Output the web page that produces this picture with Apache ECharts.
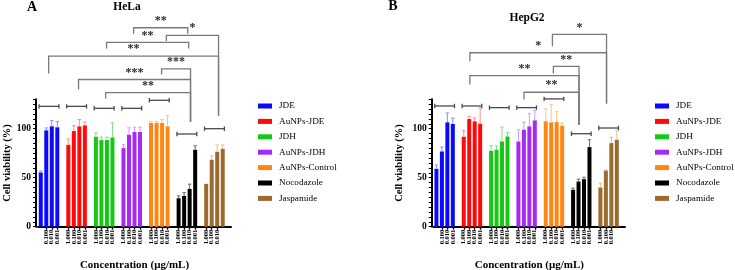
<!DOCTYPE html>
<html><head><meta charset="utf-8">
<script src="https://cdn.jsdelivr.net/npm/echarts@6/dist/echarts.min.js"></script>
<style>html,body{margin:0;padding:0;background:#fff}#c{width:735px;height:270px}</style>
</head><body><div id="c"></div>
<script>
// ---------- data ----------
const compounds = ['JDE','AuNPs-JDE','JDH','AuNPs-JDH','AuNPs-Control','Nocodazole','Jaspamide'];
const concentrations = ['1.000','0.100','0.010','0.001'];
const barColors = ['#0a0aff','#ff0a0a','#14c814','#a52af5','#ff8614','#000000','#9b6a2e'];
const errColors = ['#8a8aff','#ff8f8f','#86de86','#d39af7','#ffc283','#6a6a6a','#dcc29a'];

const helaValues = [
  [55.3, 98.3, 102.4, 101.4],
  [83.6, 97.6, 102.4, 103.4],
  [91.8, 88.4, 88.4, 91.1],
  [80.2, 93.9, 96.6, 96.6],
  [105.8, 105.8, 105.8, 102.4],
  [29.0, 31.4, 38.6, 78.5],
  [43.7, 68.3, 76.5, 79.5]];
const helaErrors = [
  [1.5, 2.5, 6, 6],
  [6, 5.5, 7, 3.5],
  [4, 3, 3, 15],
  [3.5, 7, 5, 5],
  [1.5, 1.5, 3.5, 11],
  [2.5, 3.4, 4.8, 4],
  [0, 4, 7, 4]];
const hepg2Values = [
  [59.0, 76.8, 106.5, 104.8],
  [91.8, 109.9, 107.5, 105.1],
  [77.5, 78.5, 87.0, 92.1],
  [87.0, 99.0, 102.4, 108.5],
  [107.5, 106.5, 106.8, 103.1],
  [37.6, 46.1, 48.5, 81.2],
  [40.0, 57.3, 85.3, 88.7]];
const hepg2Errors = [
  [4, 4.4, 9.5, 6],
  [6.5, 2.7, 3.5, 16],
  [5, 4, 14.7, 4],
  [12, 7.8, 13, 10],
  [12.7, 18, 10.6, 2.7],
  [1.7, 2.4, 2, 7.5],
  [4.4, 0.7, 6, 9.6]];

// level of the short bracket over each group
const helaGroupLevels = [122.8, 122.8, 120.8, 120.8, 129, 94.6, 100];
const hepg2GroupLevels = [123.2, 123.2, 121.5, 121.5, 130.4, 94.9, 100.7];

// comparison brackets: [from slot, to slot, top value, left leg end, right leg end]
const helaBrackets = [
  [16.84, 26.65, 203, 197, 197],
  [22.78, 32.24, 195.2, 189.4, 113.3],
  [11.93, 26.82, 188, 181.9, 181.9],
  [1.43, 32.24, 174, 156.3, 113.3],
  [21.91, 27.16, 161.1, 155.3, 107.2],
  [6.85, 27.16, 150.2, 140, 107.2],
  [11.76, 27.16, 136.8, 130.7, 107.2]];
const helaStars = ['**', '*', '**', '**', '***', '***', '**'];
const hepg2Brackets = [
  [21.22, 31.12, 196.2, 184.2, 125.6],
  [6.12, 31.12, 177.5, 168.9, 125.6],
  [21.4, 26.09, 163.5, 156.3, 104],
  [6.12, 26.09, 154.2, 145, 104],
  [16.02, 26.09, 137.2, 129.7, 104]];
const hepg2Stars = ['*', '*', '**', '**', '**'];

// ---------- build ----------
const SLOTS = 5;
const categories = [];
compounds.forEach(() => { concentrations.forEach(c => categories.push(c)); categories.push(''); });

const FONT = '"Liberation Serif", "Times New Roman", serif';

function slotGeom(api) {
  const a = api.coord([0, 0])[0], b = api.coord([1, 0])[0];
  return s => a + s * (b - a);
}

function errSeries(idx, values, errors) {
  const data = [];
  values.forEach((vals, g) => vals.forEach((v, i) => data.push([g * SLOTS + i, v, errors[g][i], g])));
  return {
    type: 'custom', xAxisIndex: idx, yAxisIndex: idx, z: 5, clip: false, silent: true,
    encode: { x: 0, y: 1 },
    data: data,
    renderItem: function (params, api) {
      const x = api.value(0), v = api.value(1), e = api.value(2), g = api.value(3);
      if (!e) return null;
      const p0 = api.coord([x, v]), p1 = api.coord([x, v + e]);
      const c = errColors[g];
      return { type: 'group', children: [
        { type: 'line', shape: { x1: p0[0], y1: p0[1], x2: p1[0], y2: p1[1] }, style: { stroke: c, lineWidth: 1 } },
        { type: 'line', shape: { x1: p1[0] - 1.7, y1: p1[1], x2: p1[0] + 1.7, y2: p1[1] }, style: { stroke: c, lineWidth: 1 } }
      ] };
    }
  };
}

function groupBracketSeries(idx, levels) {
  return {
    type: 'custom', xAxisIndex: idx, yAxisIndex: idx, z: 6, clip: false, silent: true,
    data: levels.map((l, g) => [g * SLOTS, l]),
    encode: { x: 0, y: 1 },
    renderItem: function (params, api) {
      const X = slotGeom(api);
      const g = params.dataIndex;
      const y = api.coord([0, levels[g]])[1];
      const x1 = X(g * SLOTS - 0.3), x2 = X(g * SLOTS + 3.3);
      const st = { stroke: '#4a4a4a', lineWidth: 1.3 };
      return { type: 'group', children: [
        { type: 'line', shape: { x1: x1, y1: y, x2: x2, y2: y }, style: st },
        { type: 'line', shape: { x1: x1, y1: y - 2.2, x2: x1, y2: y + 2.2 }, style: st },
        { type: 'line', shape: { x1: x2, y1: y - 2.2, x2: x2, y2: y + 2.2 }, style: st }
      ] };
    }
  };
}

function bracketSeries(idx, brackets, stars) {
  return {
    type: 'custom', xAxisIndex: idx, yAxisIndex: idx, z: 6, clip: false, silent: true,
    data: brackets.map(b => [0, 0]),
    encode: { x: 0, y: 1 },
    renderItem: function (params, api) {
      const X = slotGeom(api);
      const b = brackets[params.dataIndex];
      const Y = v => api.coord([0, v])[1];
      const x1 = X(b[0]), x2 = X(b[1]), yt = Y(b[2]), yl = Y(b[3]), yr = Y(b[4]);
      return { type: 'group', children: [
        { type: 'polyline', shape: { points: [[x1, yl], [x1, yt], [x2, yt], [x2, yr]] },
          style: { stroke: '#7a7a7a', lineWidth: 1.3, fill: null } },
        { type: 'text', style: { text: stars[params.dataIndex], x: (x1 + x2) / 2, y: yt - 7,
          align: 'center', verticalAlign: 'middle', textAlign: 'center', textVerticalAlign: 'middle',
          font: 'bold 12px ' + FONT, fill: '#2a2a2a' } }
      ] };
    }
  };
}

function barSeries(idx, values) {
  return compounds.map((name, g) => ({
    name: name, type: 'bar', xAxisIndex: idx, yAxisIndex: idx,
    barWidth: 4, barGap: '-100%',
    itemStyle: { color: barColors[g] },
    data: values[g].map((v, i) => [g * SLOTS + i, v])
  }));
}

function xAxis(idx) {
  return {
    gridIndex: idx, type: 'category', data: categories, boundaryGap: true,
    axisLine: { show: true, lineStyle: { color: '#000', width: 2 } },
    axisTick: { show: true, alignWithLabel: true, interval: i => i % SLOTS !== SLOTS - 1, length: 3,
      lineStyle: { color: '#000', width: 1.4 } },
    axisLabel: { interval: i => i % SLOTS !== SLOTS - 1, rotate: 90, fontSize: 6.5, fontWeight: 'bold',
      fontFamily: FONT, color: '#000', margin: 3 },
    splitLine: { show: false },
    name: 'Concentration (μg/mL)', nameLocation: 'middle', nameGap: 33, nameMoveOverlap: false,
    nameTextStyle: { fontFamily: FONT, fontWeight: 'bold', fontSize: 11, color: '#000' }
  };
}
function yAxis(idx, gap) {
  return {
    gridIndex: idx, type: 'value', min: 0, max: 130, interval: 5, offset: 2,
    axisLine: { show: true, lineStyle: { color: '#000', width: 2 } },
    axisTick: { show: true, length: 3, lineStyle: { color: '#000', width: 1 } },
    axisLabel: { formatter: v => (v % 50 === 0 ? String(v) : ''), fontSize: 9.5, fontWeight: 'bold',
      fontFamily: FONT, color: '#000', margin: 5 },
    splitLine: { show: false },
    name: 'Cell viability (%)', nameLocation: 'middle', nameGap: gap, nameMoveOverlap: false,
    nameTextStyle: { fontFamily: FONT, fontWeight: 'bold', fontSize: 10.5, color: '#000' }
  };
}
function legend(left) {
  return {
    orient: 'vertical', left: left, top: 101, padding: 0, itemWidth: 14, itemHeight: 5, itemGap: 5.4,
    icon: 'rect', data: compounds, selectedMode: false,
    textStyle: { fontFamily: FONT, fontSize: 9.2, color: '#000', lineHeight: 10, padding: [0, 0, 0, 2] }
  };
}

const chart = echarts.init(document.getElementById('c'), null, { renderer: 'canvas' });
chart.setOption({
  animation: false,
  backgroundColor: '#fff',
  grid: [
    { left: 38, top: 99.3, width: 193, height: 127.4, outerBoundsMode: 'none', containLabel: false },
    { left: 433.7, top: 99.3, width: 191.3, height: 127.4, outerBoundsMode: 'none', containLabel: false }
  ],
  xAxis: [xAxis(0), xAxis(1)],
  yAxis: [yAxis(0, 23), yAxis(1, 27)],
  legend: [legend(258), legend(655)],
  graphic: [
    { type: 'text', style: { text: 'A', x: 32, y: 7, textAlign: 'center', textVerticalAlign: 'middle', align: 'center', verticalAlign: 'middle', font: 'bold 14px ' + FONT, fill: '#000' } },
    { type: 'text', style: { text: 'HeLa', x: 127, y: 7, textAlign: 'center', textVerticalAlign: 'middle', align: 'center', verticalAlign: 'middle', font: 'bold 11.5px ' + FONT, fill: '#000' } },
    { type: 'text', style: { text: 'B', x: 393, y: 6, textAlign: 'center', textVerticalAlign: 'middle', align: 'center', verticalAlign: 'middle', font: 'bold 14px ' + FONT, fill: '#000' } },
    { type: 'text', style: { text: 'HepG2', x: 527, y: 18, textAlign: 'center', textVerticalAlign: 'middle', align: 'center', verticalAlign: 'middle', font: 'bold 11.5px ' + FONT, fill: '#000' } }
  ],
  series: [].concat(
    barSeries(0, helaValues), barSeries(1, hepg2Values),
    [errSeries(0, helaValues, helaErrors), errSeries(1, hepg2Values, hepg2Errors),
     groupBracketSeries(0, helaGroupLevels), groupBracketSeries(1, hepg2GroupLevels),
     bracketSeries(0, helaBrackets, helaStars), bracketSeries(1, hepg2Brackets, hepg2Stars)]
  )
});
</script>
</body></html>
